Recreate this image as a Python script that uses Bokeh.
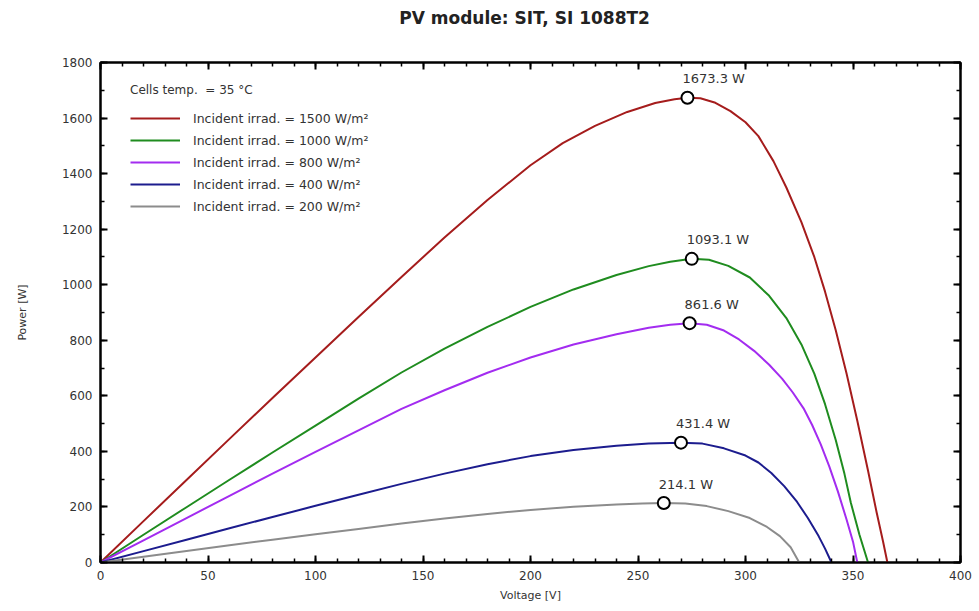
from bokeh.plotting import figure
from bokeh.models import (Range1d, SingleIntervalTicker, LinearAxis, Legend, LegendItem,
                          CustomJSTickFormatter)
from bokeh.embed import file_html
from bokeh.resources import INLINE
from bokeh.core.properties import value

# ---- data ----
v_1500 = [0, 20, 40, 60, 80, 100, 120, 140, 160, 180, 200, 215, 230, 245, 258, 267, 273, 279, 286, 293, 300, 306, 313, 319, 326, 332, 337, 342, 347, 352, 357, 361, 364, 366]
p_1500 = [0, 149, 297, 445, 592, 738, 884, 1028, 1170, 1305, 1430, 1510, 1572, 1622, 1654, 1668, 1673.3, 1671, 1655, 1625, 1585, 1535, 1445, 1350, 1225, 1100, 975, 835, 680, 510, 330, 180, 75, 0]

v_1000 = [0, 20, 40, 60, 80, 100, 120, 140, 160, 180, 200, 220, 240, 255, 265, 275, 283, 292, 302, 311, 319, 326, 332, 337, 342, 346, 349, 353, 357]
p_1000 = [0, 100, 199, 298, 396, 493, 590, 684, 770, 848, 920, 983, 1035, 1067, 1083, 1093.1, 1090, 1068, 1026, 960, 880, 785, 680, 570, 440, 320, 215, 100, 0]

v_800 = [0, 20, 40, 60, 80, 100, 120, 140, 160, 180, 200, 220, 240, 255, 265, 274, 282, 290, 297, 304, 311, 317, 322, 327, 331, 335, 339, 343, 347, 350, 352]
p_800 = [0, 80, 160, 240, 320, 398, 476, 553, 620, 683, 738, 785, 822, 845, 856, 861.6, 856, 835, 803, 762, 712, 662, 612, 555, 495, 425, 345, 255, 155, 75, 0]

v_400 = [0, 20, 40, 60, 80, 100, 120, 140, 160, 180, 200, 220, 240, 255, 270, 280, 290, 300, 306, 312, 318, 324, 329, 334, 337, 340]
p_400 = [0, 41, 82, 123, 164, 204, 244, 283, 320, 354, 383, 405, 420, 428, 431.4, 428, 411, 385, 360, 322, 275, 218, 160, 95, 50, 0]

v_200 = [0, 20, 40, 60, 80, 100, 120, 140, 160, 180, 200, 220, 240, 252, 262, 272, 282, 292, 302, 310, 316, 321, 325]
p_200 = [0, 21, 41, 62, 82, 102, 121, 140, 158, 175, 189, 201, 209, 212.5, 214.1, 212, 203, 185, 160, 128, 95, 55, 0]

series_labels = ["Incident irrad. = 1500 W/m²", "Incident irrad. = 1000 W/m²",
                 "Incident irrad. = 800 W/m²", "Incident irrad. = 400 W/m²",
                 "Incident irrad. = 200 W/m²"]
series_colors = ["#a51c1c", "#1f8c1f", "#a32cf0", "#1c1c8e", "#8c8c8c"]

mpp_v = [273, 275, 274, 270, 262]
mpp_p = [1673.3, 1093.1, 861.6, 431.4, 214.1]
mpp_labels = ["1673.3 W", "1093.1 W", "861.6 W", "431.4 W", "214.1 W"]

title_text = "PV module:  SIT,  SI 1088T2"

FONT = "DejaVu Sans"
TXT = "#333333"

p = figure(width=979, height=611, output_backend="svg", toolbar_location=None,
           x_range=Range1d(0, 400), y_range=Range1d(0, 1800),
           min_border_left=100, min_border_right=19, min_border_top=62, min_border_bottom=49,
           x_axis_label="Voltage [V]", y_axis_label="Power [W]")
p.xgrid.visible = False
p.ygrid.visible = False
p.outline_line_color = "black"
p.outline_line_width = 2

p.xaxis.ticker = SingleIntervalTicker(interval=50, num_minor_ticks=5)
p.yaxis.ticker = SingleIntervalTicker(interval=200, num_minor_ticks=2)

def style_axis(ax):
    ax.axis_line_color = "black"
    ax.axis_line_width = 2
    ax.major_tick_in = 7
    ax.major_tick_out = 0
    ax.minor_tick_in = 4
    ax.minor_tick_out = 0
    ax.major_tick_line_width = 2
    ax.minor_tick_line_width = 1.5
    ax.major_label_text_font = FONT
    ax.major_label_text_font_size = "12px"
    ax.major_label_text_color = TXT
    ax.axis_label_text_font = FONT
    ax.axis_label_text_font_size = "11px"
    ax.axis_label_text_font_style = "normal"
    ax.axis_label_text_color = TXT

for ax in p.xaxis:
    style_axis(ax)
    ax.major_label_standoff = 8
    ax.axis_label_standoff = 6
for ax in p.yaxis:
    style_axis(ax)
    ax.major_label_standoff = 8
    ax.axis_label_standoff = 30

blank = CustomJSTickFormatter(code="return ''")
top_ax = LinearAxis(ticker=SingleIntervalTicker(interval=50, num_minor_ticks=5), formatter=blank)
right_ax = LinearAxis(ticker=SingleIntervalTicker(interval=200, num_minor_ticks=2), formatter=blank)
for ax in (top_ax, right_ax):
    style_axis(ax)
    ax.major_label_standoff = 0
# chart title carried by the top axis, so it sits well above the frame
top_ax.axis_label = title_text
top_ax.axis_label_text_font_size = "17px"
top_ax.axis_label_text_font_style = "bold"
top_ax.axis_label_text_color = "#222222"
top_ax.axis_label_standoff = 35
p.add_layout(top_ax, "above")
p.add_layout(right_ax, "right")

volts = [v_1500, v_1000, v_800, v_400, v_200]
powers = [p_1500, p_1000, p_800, p_400, p_200]
items = []
for vv, pp, col, lab in zip(volts, powers, series_colors, series_labels):
    r = p.line(vv, pp, line_color=col, line_width=2, line_join="round")
    items.append(LegendItem(label=lab, renderers=[r]))

p.scatter(mpp_v, mpp_p, size=12, fill_color="white", line_color="black", line_width=2)
p.text(x=mpp_v, y=mpp_p, text=mpp_labels, x_offset=-5, y_offset=-19,
       text_align="left", text_baseline="middle",
       text_font=value(FONT), text_font_size="13px", text_color=TXT)

legend = Legend(items=items, location=(24, 340), title="Cells temp.  = 35 °C")
legend.title_text_font = FONT
legend.title_text_font_size = "12px"
legend.title_text_font_style = "normal"
legend.title_text_color = TXT
legend.title_standoff = 11
legend.label_text_font = FONT
legend.label_text_font_size = "12.5px"
legend.label_text_color = TXT
legend.border_line_alpha = 0
legend.background_fill_alpha = 0
legend.glyph_width = 50
legend.glyph_height = 20
legend.label_height = 20
legend.spacing = 2
legend.padding = 6
legend.margin = 0
legend.label_standoff = 13
p.add_layout(legend)

open("out.html", "w").write(file_html(p, INLINE))
